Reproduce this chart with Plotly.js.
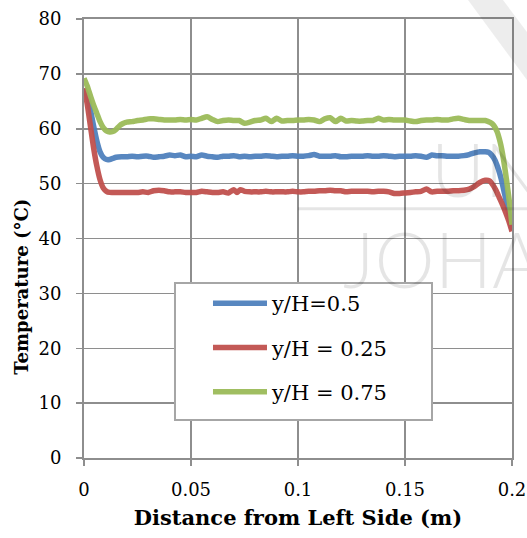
<!DOCTYPE html>
<html>
<head>
<meta charset="utf-8">
<script src="https://cdn.plot.ly/plotly-3.0.1.min.js"></script>
<style>html,body{margin:0;padding:0;background:#fff;}#chart{width:527px;height:538px;}</style>
</head>
<body>
<div id="chart"></div>
<script>
// Series names
const seriesNames = ["y/H=0.5", "y/H = 0.25", "y/H = 0.75"];

// y/H = 0.5 (blue)
const xBlue = [0,0.0015,0.003,0.0045,0.006,0.0075,0.009,0.0105,0.012,0.0135,0.015,0.0175,0.02,0.0225,0.025,0.0275,0.03,0.0325,0.035,0.0375,0.04,0.0425,0.045,0.0475,0.05,0.0525,0.055,0.0575,0.06,0.0625,0.065,0.0675,0.07,0.0725,0.075,0.0775,0.08,0.0825,0.085,0.0875,0.09,0.0925,0.095,0.0975,0.1,0.1025,0.105,0.1075,0.11,0.1125,0.115,0.1175,0.12,0.1225,0.125,0.1275,0.13,0.1325,0.135,0.1375,0.14,0.1425,0.145,0.1475,0.15,0.1525,0.155,0.1575,0.16,0.1625,0.165,0.1675,0.17,0.1725,0.175,0.1775,0.18,0.1825,0.185,0.1875,0.189,0.1905,0.192,0.1935,0.195,0.1965,0.198,0.1995,0.2];
const tBlue = [67.3,66,63.5,60.5,57.8,55.8,54.8,54.4,54.4,54.6,54.8,54.9,54.9,55.0,54.9,55.0,55.0,54.8,54.9,55.0,55.2,55.1,55.2,54.9,55.0,54.9,55.2,55.0,54.9,54.8,55.0,55.0,55.1,54.9,55.0,54.9,55.0,55.0,55.1,55.0,54.9,55.0,55.0,55.1,55.0,55.0,55.1,55.3,55.0,55.0,55.0,55.1,54.9,54.9,55.0,55.0,55.0,55.1,55.0,55.0,55.1,55.0,54.9,55.0,55.0,55.0,55.1,55.0,54.8,55.2,55.1,55.1,55.0,55.0,55.0,55.1,55.3,55.6,55.8,55.8,55.7,55.2,54.3,52.8,50.8,48.2,45.5,42.5,41.5];

// y/H = 0.25 (red)
const xRed = [0,0.0015,0.003,0.0045,0.006,0.0075,0.009,0.0105,0.012,0.015,0.0175,0.02,0.0225,0.025,0.0275,0.03,0.0325,0.035,0.0375,0.04,0.0425,0.045,0.0475,0.05,0.0525,0.055,0.0575,0.06,0.0625,0.065,0.0675,0.07,0.0715,0.073,0.075,0.0775,0.08,0.0825,0.085,0.0875,0.09,0.0925,0.095,0.0975,0.1,0.1025,0.105,0.1075,0.11,0.1125,0.115,0.1175,0.12,0.1225,0.125,0.1275,0.13,0.1325,0.135,0.1375,0.14,0.1425,0.145,0.1475,0.15,0.1525,0.155,0.1575,0.16,0.1625,0.165,0.1675,0.17,0.1725,0.175,0.1775,0.18,0.1825,0.185,0.1875,0.1895,0.191,0.1925,0.194,0.1955,0.197,0.1985,0.2];
const tRed = [67.4,64.5,60.5,56.5,53.2,50.7,49.2,48.6,48.4,48.4,48.4,48.4,48.4,48.4,48.5,48.4,48.7,48.8,48.7,48.5,48.5,48.5,48.4,48.4,48.4,48.6,48.5,48.4,48.4,48.5,48.3,48.9,48.4,48.9,48.6,48.5,48.5,48.5,48.6,48.5,48.5,48.5,48.5,48.6,48.5,48.5,48.6,48.6,48.7,48.7,48.8,48.7,48.7,48.5,48.6,48.6,48.6,48.6,48.5,48.6,48.6,48.5,48.2,48.2,48.3,48.4,48.5,48.6,49.0,48.5,48.6,48.6,48.6,48.7,48.7,48.8,49.0,49.5,50.2,50.6,50.5,49.8,48.8,47.5,46.2,44.8,43.2,41.3];

// y/H = 0.75 (green)
const xGreen = [0,0.0015,0.003,0.0045,0.006,0.0075,0.009,0.0105,0.012,0.0135,0.015,0.0165,0.018,0.02,0.0225,0.025,0.0275,0.03,0.0325,0.035,0.0375,0.04,0.0425,0.045,0.0475,0.05,0.0525,0.055,0.0575,0.06,0.0625,0.065,0.0675,0.07,0.0725,0.075,0.0775,0.08,0.0825,0.085,0.0875,0.09,0.0925,0.095,0.0975,0.1,0.1025,0.105,0.1075,0.11,0.1125,0.115,0.1175,0.12,0.1225,0.125,0.1275,0.13,0.1325,0.135,0.1375,0.14,0.1425,0.145,0.1475,0.15,0.1525,0.155,0.1575,0.16,0.1625,0.165,0.1675,0.17,0.1725,0.175,0.1775,0.18,0.1825,0.185,0.1875,0.19,0.1915,0.193,0.1945,0.196,0.1975,0.199,0.2];
const tGreen = [69.2,67.8,66,64.3,62.8,61.3,60.2,59.6,59.4,59.5,59.9,60.5,60.9,61.2,61.3,61.5,61.6,61.8,61.8,61.7,61.6,61.6,61.6,61.7,61.6,61.7,61.6,61.9,62.2,61.7,61.3,61.5,61.6,61.5,61.5,61.0,61.2,61.5,61.6,61.9,61.3,61.9,61.4,61.5,61.5,61.6,61.6,61.7,61.6,61.3,61.8,62.0,61.3,61.9,61.4,61.5,61.4,61.4,61.5,61.5,61.9,61.6,61.7,61.6,61.6,61.6,61.4,61.3,61.5,61.6,61.6,61.7,61.6,61.6,61.8,61.9,61.7,61.5,61.5,61.5,61.5,61.1,60.6,59.5,57.5,54.5,50.5,46,42.5];

// Axis ticks
const xTickVals = [0, 0.05, 0.1, 0.15, 0.2];
const xTickText = ["0", "0.05", "0.1", "0.15", "0.2"];
const yTickVals = [0, 10, 20, 30, 40, 50, 60, 70, 80];

const colors = ["#4F81BD", "#C0504D", "#9BBB59"];
const serif = "DejaVu Serif, Liberation Serif, serif";
const sans = "Lato, Open Sans, Liberation Sans, sans-serif";
const gridCol = "#8e8e8e";
const wm = "rgba(0,0,0,0.10)";

function mk(x, y, i) {
  return {
    x: x, y: y, name: seriesNames[i], type: "scatter", mode: "lines",
    line: {color: colors[i], width: 5.5, shape: "spline", smoothing: 0.6},
    opacity: 0.95,
    legendgroup: "g" + i
  };
}
const traces = [mk(xBlue, tBlue, 0), mk(xRed, tRed, 1), mk(xGreen, tGreen, 2)];

const layout = {
  width: 527, height: 538,
  margin: {l: 84, r: 15, t: 19, b: 80},
  paper_bgcolor: "#fff", plot_bgcolor: "#fff",
  showlegend: true,
  font: {family: serif, color: "#000"},
  xaxis: {
    range: [0, 0.2], tickvals: xTickVals, ticktext: xTickText,
    showgrid: true, gridcolor: gridCol, gridwidth: 1.5,
    showline: true, linecolor: gridCol, linewidth: 2, mirror: true,
    ticks: "outside", ticklen: 6, tickcolor: gridCol, tickwidth: 1.5,
    ticklabelstandoff: 8,
    zeroline: false,
    tickfont: {family: serif, size: 18, color: "#000"},
    title: {text: "<b>Distance from Left Side (m)</b>", font: {family: serif, size: 21, color: "#000"}, standoff: 12}
  },
  yaxis: {
    range: [0, 80], tickvals: yTickVals,
    showgrid: true, gridcolor: gridCol, gridwidth: 1.5,
    showline: true, linecolor: gridCol, linewidth: 2, mirror: true,
    ticks: "outside", ticklen: 6, tickcolor: gridCol, tickwidth: 1.5,
    ticklabelstandoff: 11,
    zeroline: false,
    tickfont: {family: serif, size: 18, color: "#000"}
  },
  legend: {
    x: 0.2897, y: 0.3986, xanchor: "left", yanchor: "top",
    bgcolor: "rgba(0,0,0,0)", borderwidth: 0,
    font: {family: serif, size: 21, color: "#000"},
    itemwidth: 54, tracegroupgap: 14
  },
  shapes: [
    {type: "path", xref: "paper", yref: "paper",
     path: "M 0.8972,1.0433 L 0.979,1.0433 L 1.035,0.9704 L 1.035,0.861 Z",
     fillcolor: "rgba(0,0,0,0.07)", line: {width: 0}, layer: "above"},
    {type: "line", xref: "paper", yref: "paper", x0: 0.50, x1: 1.04, y0: 0.568, y1: 0.568,
     line: {color: wm, width: 3}, layer: "above"},
    {type: "rect", xref: "paper", yref: "paper", x0: 0.2126, x1: 0.8131, y0: 0.0866, y1: 0.3986,
     line: {color: "#a6a6a6", width: 2}, fillcolor: "#fff", layer: "above"}
  ],
  annotations: [
    {xref: "paper", yref: "paper", x: -0.145, y: 0.39, xanchor: "center", yanchor: "middle",
     text: "<b>Temperature (°C)</b>", textangle: -90, showarrow: false,
     font: {family: serif, size: 18, color: "#000"}},
    {xref: "paper", yref: "paper", x: 0.805, y: 0.66, xanchor: "left", yanchor: "middle",
     text: "UNI", showarrow: false, font: {family: sans, size: 74, color: wm, weight: 300}},
    {xref: "paper", yref: "paper", x: 0.60, y: 0.455, xanchor: "left", yanchor: "middle",
     text: "JOHAN", showarrow: false, font: {family: sans, size: 76, color: wm, weight: 300}}
  ]
};

Plotly.newPlot("chart", traces, layout, {displayModeBar: false, staticPlot: true});
</script>
</body>
</html>
